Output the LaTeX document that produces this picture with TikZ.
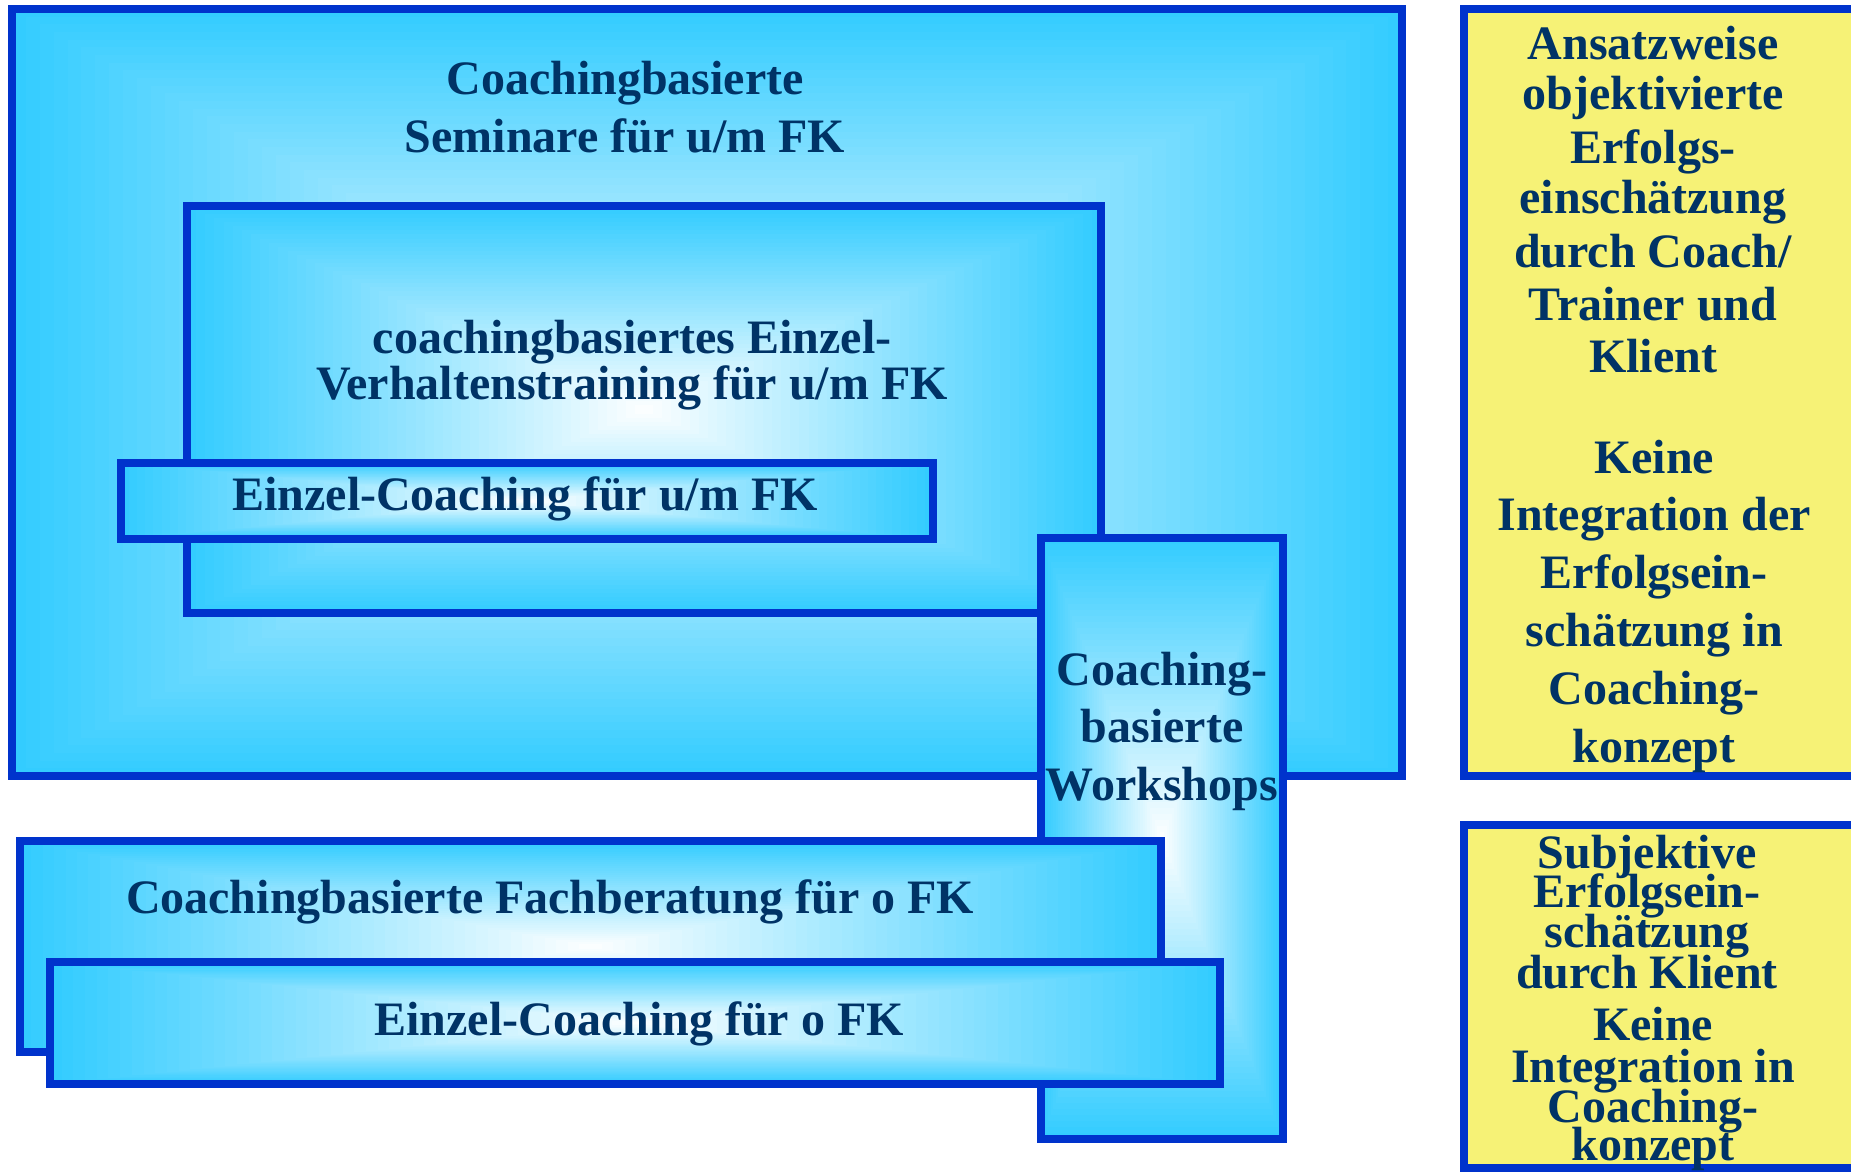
\documentclass[tikz,border=0pt]{standalone}
\usepackage{fontspec}
\setmainfont{Liberation Serif}
\definecolor{bord}{RGB}{0,51,204}
\definecolor{cyanedge}{RGB}{51,204,255}
\definecolor{txtc}{RGB}{0,51,102}
\definecolor{yel}{RGB}{246,242,118}
\newcommand{\gradbox}[5]{%
  \pgfmathsetmacro{\gcx}{(#1+#3)/2}%
  \pgfmathsetmacro{\gcy}{(#2+#4)/2}%
  \pgfmathsetmacro{\ghw}{abs(#3-#1)/2}%
  \pgfmathsetmacro{\ghh}{abs(#4-#2)/2}%
  \foreach \i in {0,...,49}{%
    \pgfmathsetmacro{\gf}{1-\i/50}%
    \pgfmathtruncatemacro{\gpc}{100*\gf}%
    \fill[cyanedge!\gpc!white] (\gcx-\gf*\ghw,\gcy-\gf*\ghh) rectangle (\gcx+\gf*\ghw,\gcy+\gf*\ghh);
  }%
  \draw[boxline] (#1,#2) rectangle (#3,#4);
  \coordinate (#5) at (\gcx,\gcy);
}
\begin{document}
\begin{tikzpicture}[x=0.5pt,y=-0.5pt,
  boxline/.style={draw=bord,line width=4pt},
  txt/.style={font=\bfseries\fontsize{24}{28}\selectfont,text=txtc,anchor=base,inner sep=0pt},
  ybox/.style={boxline,fill=yel}]
\useasboundingbox (0,0) rectangle (1851,1172);
\clip (0,0) rectangle (1851,1172);
\fill[white] (0,0) rectangle (1851,1172);

% boxes
\gradbox{12}{9}{1402}{776}{boxA}
\gradbox{187}{206}{1101}{613}{boxB}
\gradbox{121}{463}{933}{539}{boxC}
\gradbox{1041}{538}{1283}{1139}{boxD}
\gradbox{20}{841}{1161}{1052}{boxE}
\gradbox{50}{962}{1220}{1084}{boxF}
\draw[ybox] (1464,9) rectangle (1890,776);
\draw[ybox] (1464,825) rectangle (1890,1168);

% texts
\node[txt] (a1) at (625,95) {Coachingbasierte};
\node[txt] (a2) at (625,152) {Seminare für u/m FK};
\node[txt] (b1) at (632,353) {coachingbasiertes Einzel-};
\node[txt] (b2) at (632,399) {Verhaltenstraining für u/m FK};
\node[txt] (c1) at (525,510) {Einzel-Coaching für u/m FK};
\node[txt] (d1) at (1162,685) {Coaching-};
\node[txt] (d2) at (1162,742) {basierte};
\node[txt] (d3) at (1162,800) {Workshops};
\node[txt] (e1) at (550,913) {Coachingbasierte Fachberatung für o FK};
\node[txt] (f1) at (639,1035) {Einzel-Coaching für o FK};

\foreach \t/\y [count=\k] in {Ansatzweise/60,objektivierte/110,Erfolgs-/163,einschätzung/213,durch Coach\slash/267,Trainer und/320,Klient/372}
  \node[txt] (ya\k) at (1653,\y) {\t};
\foreach \t/\y [count=\k] in {Keine/473,Integration der/530,Erfolgsein-/588,schätzung in/646,Coaching-/704,konzept/762}
  \node[txt] (yb\k) at (1654,\y) {\t};
\foreach \t/\y [count=\k] in {Subjektive/868,Erfolgsein-/907,schätzung/947,durch Klient/988}
  \node[txt] (yc\k) at (1647,\y) {\t};
\foreach \t/\y [count=\k] in {Keine/1040,Integration in/1082,Coaching-/1122,konzept/1160}
  \node[txt] (yd\k) at (1653,\y) {\t};
\end{tikzpicture}
\end{document}
